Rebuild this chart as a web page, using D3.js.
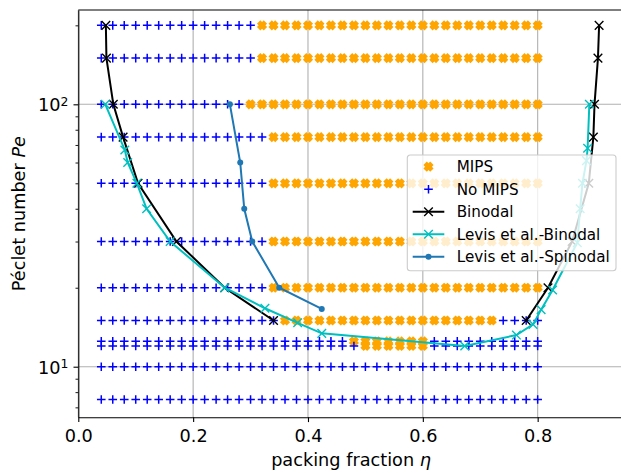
<!DOCTYPE html>
<html>
<head>
<meta charset="utf-8">
<script src="https://cdn.jsdelivr.net/npm/d3@7"></script>
<style>
  body { margin: 0; background: #fff; }
  svg { display: block; font-family: "DejaVu Sans", sans-serif; }
</style>
</head>
<body>
<div id="chart"></div>
<script>
// sampled state points (packing fraction grid x Peclet rows)
const etaGrid = [0.04, 0.06, 0.08, 0.10, 0.12, 0.14, 0.16, 0.18, 0.20, 0.22, 0.24, 0.26, 0.28,
                 0.30, 0.32, 0.34, 0.36, 0.38, 0.40, 0.42, 0.44, 0.46, 0.48, 0.50, 0.52, 0.54,
                 0.56, 0.58, 0.60, 0.62, 0.64, 0.66, 0.68, 0.70, 0.72, 0.74, 0.76, 0.78, 0.80];
const peRows   = [200, 150, 100, 75, 50, 30, 20, 15, 12.5, 12, 10, 7.5];
// first / last eta of the MIPS run in each row (null = no MIPS at all)
const mipsFrom = [0.32, 0.32, 0.30, 0.34, 0.34, 0.34, 0.34, 0.36, 0.48, 0.50, null, null];
const mipsTo   = [0.80, 0.80, 0.80, 0.80, 0.80, 0.80, 0.80, 0.72, 0.60, 0.60, null, null];

// [eta, Pe]
const binodalLow  = [[0.048, 200], [0.049, 150], [0.061, 100], [0.078, 75], [0.104, 50],
                     [0.171, 30], [0.255, 20], [0.340, 15]];
const binodalHigh = [[0.780, 15], [0.818, 20], [0.860, 30], [0.889, 50], [0.897, 75],
                     [0.899, 100], [0.905, 150], [0.907, 200]];
const levisBinodal = [[0.047, 100], [0.081, 67], [0.086, 60], [0.102, 50], [0.119, 40],
                      [0.160, 30], [0.255, 20], [0.325, 16.7], [0.382, 14.7], [0.424, 13.4],
                      [0.673, 12.0], [0.763, 13.2], [0.792, 14.5], [0.806, 16.5], [0.826, 19.6],
                      [0.869, 29.7], [0.874, 40], [0.878, 50], [0.885, 61], [0.887, 68],
                      [0.890, 100]];
const levisSpinodal = [[0.264, 100], [0.282, 60], [0.289, 40], [0.303, 30], [0.350, 20],
                       [0.424, 16.6]];

const xTicks = [0.0, 0.2, 0.4, 0.6, 0.8];
const yMajor = [10, 100];
const yMinor = [7, 8, 9, 20, 30, 40, 50, 60, 70, 80, 90, 200];

const W = 621, H = 473;
const plotLeft = 78.3, plotTop = 10, plotBottom = 417.3;

const x = d3.scaleLinear().domain([0, 0.95]).range([plotLeft, 623.8]);
const y = d3.scaleLog().domain([6.415, 228.8]).range([plotBottom, plotTop]);

const svg = d3.select("#chart").append("svg")
  .attr("width", W)
  .attr("height", H);

// grid
const grid = svg.append("g").attr("stroke", "#b0b0b0").attr("stroke-width", 1.1);
grid.selectAll("line.gx").data(xTicks).enter().append("line")
  .attr("x1", d => x(d)).attr("x2", d => x(d))
  .attr("y1", plotTop).attr("y2", plotBottom);
grid.selectAll("line.gy").data(yMajor).enter().append("line")
  .attr("x1", plotLeft).attr("x2", W)
  .attr("y1", d => y(d)).attr("y2", d => y(d));

// build scatter points
const mips = [], noMips = [];
peRows.forEach((pe, i) => {
  etaGrid.forEach(eta => {
    const inside = mipsFrom[i] != null && eta >= mipsFrom[i] - 1e-9 && eta <= mipsTo[i] + 1e-9;
    (inside ? mips : noMips).push([eta, pe]);
  });
});

// marker shapes
const u = 2.4;
const xFilled = [[-1, -2], [1, -2], [1, -1], [2, -1], [2, 1], [1, 1], [1, 2], [-1, 2], [-1, 1], [-2, 1], [-2, -1], [-1, -1]]
  .map(([a, b]) => [(a - b) / Math.SQRT2 * u, (a + b) / Math.SQRT2 * u]);
const xFilledPath = "M" + xFilled.map(p => p.join(",")).join("L") + "Z";
const plusPath = s => `M${-s},0H${s}M0,${-s}V${s}`;
const crossPath = s => `M${-s},${-s}L${s},${s}M${-s},${s}L${s},${-s}`;

const plot = svg.append("g");

plot.selectAll("path.mips").data(mips).enter().append("path")
  .attr("transform", d => `translate(${x(d[0])},${y(d[1])})`)
  .attr("d", xFilledPath)
  .attr("fill", "orange");

plot.selectAll("path.nomips").data(noMips).enter().append("path")
  .attr("transform", d => `translate(${x(d[0])},${y(d[1])})`)
  .attr("d", plusPath(4.3))
  .attr("stroke", "#0000ff")
  .attr("stroke-width", 1.5)
  .attr("fill", "none");

const line = d3.line().x(d => x(d[0])).y(d => y(d[1]));

function drawSeries(data, color, marker) {
  plot.append("path").datum(data)
    .attr("d", line)
    .attr("fill", "none")
    .attr("stroke", color)
    .attr("stroke-width", 2);
  if (marker === "x") {
    plot.append("g").selectAll("path").data(data).enter().append("path")
      .attr("transform", d => `translate(${x(d[0])},${y(d[1])})`)
      .attr("d", crossPath(4.3))
      .attr("stroke", color)
      .attr("stroke-width", 1.4)
      .attr("fill", "none");
  } else {
    plot.append("g").selectAll("circle").data(data).enter().append("circle")
      .attr("cx", d => x(d[0])).attr("cy", d => y(d[1]))
      .attr("r", 3)
      .attr("fill", color);
  }
}

drawSeries(binodalLow, "#000000", "x");
drawSeries(binodalHigh, "#000000", "x");
drawSeries(levisBinodal, "#00bfbf", "x");
drawSeries(levisSpinodal, "#1f77b4", "dot");

// axes
const fs = 17.7;
const xAxis = svg.append("g")
  .attr("transform", `translate(0,${plotBottom})`)
  .call(d3.axisBottom(x).tickValues(xTicks).tickFormat(d3.format(".1f")).tickSizeInner(4.8).tickSizeOuter(0).tickPadding(7.3));
xAxis.select(".domain").attr("stroke", "#000").attr("stroke-width", 1.1);
xAxis.selectAll(".tick line").attr("stroke", "#000").attr("stroke-width", 1.1);
xAxis.selectAll("text").attr("font-size", fs).attr("fill", "#000").attr("font-family", "DejaVu Sans");

const yAxis = svg.append("g")
  .attr("transform", `translate(${plotLeft},0)`)
  .call(d3.axisLeft(y).tickValues(yMajor).tickFormat("").tickSizeInner(4.8).tickSizeOuter(0));
yAxis.select(".domain").attr("stroke", "#000").attr("stroke-width", 1.1);
yAxis.selectAll(".tick line").attr("stroke", "#000").attr("stroke-width", 1.1);
yAxis.selectAll(".tick").append("text")
  .attr("x", -10)
  .attr("dy", "0.36em")
  .attr("text-anchor", "end")
  .attr("fill", "#000")
  .attr("font-size", fs)
  .attr("font-family", "DejaVu Sans")
  .each(function (d) {
    const t = d3.select(this);
    t.append("tspan").text("10");
    t.append("tspan").attr("dy", "-0.42em").attr("font-size", fs * 0.7).text(Math.round(Math.log10(d)));
  });

const yMinorAxis = svg.append("g")
  .attr("transform", `translate(${plotLeft},0)`)
  .call(d3.axisLeft(y).tickValues(yMinor).tickFormat("").tickSizeInner(2.8).tickSizeOuter(0));
yMinorAxis.select(".domain").remove();
yMinorAxis.selectAll(".tick line").attr("stroke", "#000").attr("stroke-width", 0.9);

// top spine (right spine falls outside the picture)
svg.append("line")
  .attr("x1", plotLeft).attr("x2", W).attr("y1", plotTop).attr("y2", plotTop)
  .attr("stroke", "#000").attr("stroke-width", 1.1);

// axis labels
const xl = svg.append("text")
  .attr("x", (plotLeft + 623.8) / 2).attr("y", 466)
  .attr("text-anchor", "middle").attr("font-size", fs);
xl.append("tspan").text("packing fraction ");
xl.append("tspan").attr("font-style", "italic").text("η");

const yl = svg.append("text")
  .attr("transform", `translate(25,${(plotTop + plotBottom) / 2}) rotate(-90)`)
  .attr("text-anchor", "middle").attr("font-size", fs);
yl.append("tspan").text("Péclet number ");
yl.append("tspan").attr("font-style", "italic").text("Pe");

// legend
const legendItems = [
  { label: "MIPS", kind: "mips" },
  { label: "No MIPS", kind: "nomips" },
  { label: "Binodal", kind: "line", color: "#000000", marker: "x" },
  { label: "Levis et al.-Binodal", kind: "line", color: "#00bfbf", marker: "x" },
  { label: "Levis et al.-Spinodal", kind: "line", color: "#1f77b4", marker: "dot" }
];

const lg = svg.append("g").attr("transform", "translate(407.3,155)");
lg.append("rect")
  .attr("width", 208.7).attr("height", 115.7)
  .attr("rx", 3)
  .attr("fill", "#fff").attr("fill-opacity", 0.8)
  .attr("stroke", "#cccccc").attr("stroke-width", 1.1);

const row = lg.selectAll("g.item").data(legendItems).enter().append("g")
  .attr("transform", (d, i) => `translate(0,${11.7 + i * 22.5})`);

row.each(function (d) {
  const g = d3.select(this);
  const cx = 21.2;
  if (d.kind === "mips") {
    g.append("path").attr("transform", `translate(${cx},0)`).attr("d", xFilledPath).attr("fill", "orange");
  } else if (d.kind === "nomips") {
    g.append("path").attr("transform", `translate(${cx},0)`).attr("d", plusPath(4.3))
      .attr("stroke", "#0000ff").attr("stroke-width", 1.5);
  } else {
    g.append("line").attr("x1", 5.4).attr("x2", 37).attr("stroke", d.color).attr("stroke-width", 2);
    if (d.marker === "x") {
      g.append("path").attr("transform", `translate(${cx},0)`).attr("d", crossPath(4.3))
        .attr("stroke", d.color).attr("stroke-width", 1.4);
    } else {
      g.append("circle").attr("cx", cx).attr("r", 3).attr("fill", d.color);
    }
  }
  g.append("text").attr("x", 49.4).attr("dy", "0.36em")
    .attr("font-size", 15.2).attr("fill", "#000").text(d.label);
});
</script>
</body>
</html>
